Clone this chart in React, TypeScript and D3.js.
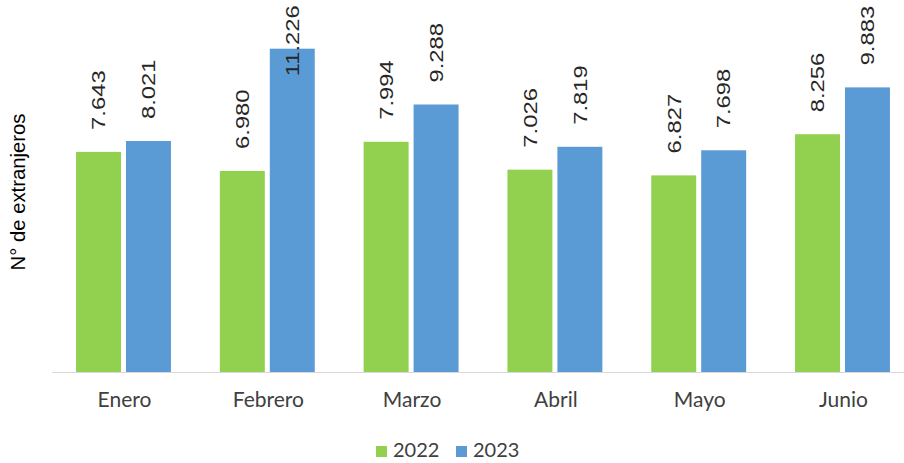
import React from "react";
import * as d3 from "d3";

const categories = ["Enero", "Febrero", "Marzo", "Abril", "Mayo", "Junio"];
const seriesNames = ["2022", "2023"];
const values2022 = [7643, 6980, 7994, 7026, 6827, 8256];
const values2023 = [8021, 11226, 9288, 7819, 7698, 9883];
const colors = ["#92D050", "#5B9BD5"];
const yAxisTitle = "N° de extranjeros";

const fmt = (v: number) => {
  const s = String(v);
  return s.length > 3 ? s.slice(0, s.length - 3) + "." + s.slice(s.length - 3) : s;
};

export default function App() {
  const W = 904;
  const H = 463;
  const baseY = 372;
  const x0 = d3
    .scaleBand<string>()
    .domain(categories)
    .range([51.6, 914.4])
    .paddingInner(0.34)
    .paddingOuter(0.17);
  const x1 = d3
    .scaleBand<string>()
    .domain(seriesNames)
    .range([0, x0.bandwidth()])
    .paddingInner(0.1);
  const y = d3.scaleLinear().domain([0, 13000]).range([baseY, -2.4]);

  const series = [values2022, values2023];
  const labelFont = 18.6;
  const stretch = 1.28;
  const labelLen = (s: string) => {
    let w = 0;
    for (const c of s) w += c === "." ? 0.278 : 0.556;
    return w * labelFont * stretch;
  };

  return (
    <svg width={W} height={H} style={{ display: "block", position: "absolute", left: 0, top: 0 }}>
      <rect width={W} height={H} fill="#ffffff" />
      <line x1={52} x2={W} y1={baseY + 0.5} y2={baseY + 0.5} stroke="#d9d9d9" strokeWidth={1} />
      {categories.map((c, i) => (
        <g key={c}>
          {seriesNames.map((s, j) => {
            const v = series[j][i];
            const bx = (x0(c) ?? 0) + (x1(s) ?? 0);
            const bw = x1.bandwidth();
            const top = y(v);
            const label = fmt(v);
            const len = labelLen(label);
            const ly = Math.max(top - 22, len + 3.5);
            const cx = bx + bw / 2;
            return (
              <g key={s}>
                <rect x={bx} y={top} width={bw} height={baseY - top} fill={colors[j]} />
                <text
                  transform={`translate(${cx + 6.8},${ly}) rotate(-90) scale(${stretch},1)`}
                  fontFamily="'Liberation Sans', Arial, sans-serif"
                  fontSize={labelFont}
                  fill="#262626"
                >
                  {label}
                </text>
              </g>
            );
          })}
          <text
            x={(x0(c) ?? 0) + x0.bandwidth() / 2 + 1}
            y={407}
            textAnchor="middle"
            fontFamily="Lato, sans-serif"
            fontSize={21}
            fill="#404040"
          >
            {c}
          </text>
        </g>
      ))}
      <text
        transform={`translate(25,192) rotate(-90)`}
        textAnchor="middle"
        fontFamily="'Liberation Sans', Arial, sans-serif"
        fontSize={20.3}
        fill="#000000"
      >
        {yAxisTitle}
      </text>
      {seriesNames.map((s, j) => {
        const lx = 376 + j * 80;
        return (
          <g key={s}>
            <rect x={lx} y={446} width={11} height={11} fill={colors[j]} />
            <text x={lx + 17} y={457} fontFamily="Lato, sans-serif" fontSize={20} fill="#404040">
              {s}
            </text>
          </g>
        );
      })}
    </svg>
  );
}
